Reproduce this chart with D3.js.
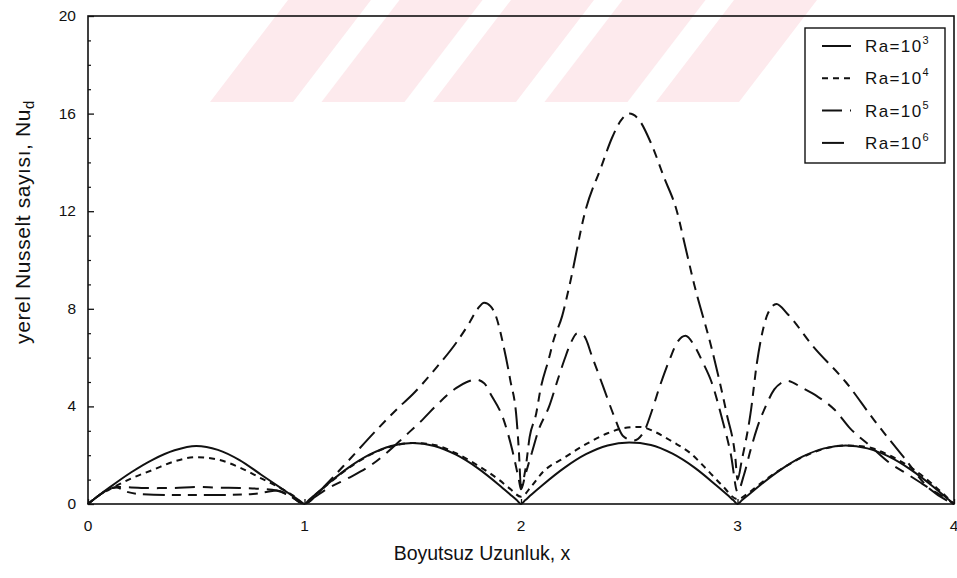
<!DOCTYPE html>
<html>
<head>
<meta charset="utf-8">
<script src="https://cdn.jsdelivr.net/npm/d3@7/dist/d3.min.js"></script>
<style>
  html, body { margin: 0; padding: 0; background: #ffffff; }
  svg { display: block; font-family: "Liberation Sans", Arial, sans-serif; }
</style>
</head>
<body>
<svg id="chart" width="957" height="578"></svg>
<script>
// Local Nusselt number along the dimensionless length for four Rayleigh numbers
const xTicks = [0, 1, 2, 3, 4];
const yTicks = [0, 4, 8, 12, 16, 20];
const yMinorTicks = d3.range(0, 21, 1);

const seriesNames = ["3", "4", "5", "6"];

// Ra = 10^3
const ra1e3 = [
  [0,0],[0.05,0.35],[0.1,0.68],[0.2,1.3],[0.3,1.82],[0.4,2.2],[0.5,2.38],[0.6,2.22],[0.7,1.8],[0.8,1.2],[0.9,0.6],[0.95,0.3],[0.98,0.12],[1,0],
  [1.02,0.16],[1.05,0.39],[1.1,0.77],[1.2,1.47],[1.3,2.02],[1.4,2.38],[1.5,2.5],[1.6,2.38],[1.7,2.02],[1.8,1.47],[1.9,0.77],[1.95,0.39],[1.98,0.16],[2,0],
  [2.02,0.16],[2.05,0.4],[2.1,0.78],[2.2,1.48],[2.3,2.04],[2.4,2.4],[2.5,2.52],[2.6,2.42],[2.7,2.06],[2.8,1.5],[2.9,0.78],[2.95,0.4],[2.98,0.16],[3,0],
  [3.02,0.15],[3.05,0.37],[3.1,0.74],[3.2,1.41],[3.3,1.94],[3.4,2.28],[3.5,2.4],[3.6,2.28],[3.7,1.94],[3.8,1.41],[3.9,0.74],[3.95,0.37],[4,0]
];

// Ra = 10^4
const ra1e4 = [
  [0,0],[0.05,0.35],[0.1,0.6],[0.2,1.05],[0.3,1.4],[0.4,1.75],[0.5,1.92],[0.6,1.82],[0.7,1.5],[0.8,1.05],[0.9,0.6],[0.95,0.33],[1,0],
  [1.05,0.38],[1.1,0.75],[1.2,1.45],[1.3,2.0],[1.4,2.36],[1.5,2.5],[1.6,2.42],[1.7,2.08],[1.8,1.58],[1.9,0.98],[1.95,0.62],[2,0.3],
  [2.05,0.75],[2.1,1.3],[2.2,1.9],[2.3,2.45],[2.4,2.9],[2.47,3.1],[2.55,3.16],[2.62,2.95],[2.7,2.55],[2.78,2.1],[2.86,1.4],[2.93,0.75],[3,0.2],
  [3.05,0.45],[3.1,0.8],[3.2,1.42],[3.3,1.92],[3.4,2.26],[3.5,2.4],[3.6,2.33],[3.7,2.0],[3.8,1.5],[3.9,0.82],[3.95,0.42],[4,0]
];

// Ra = 10^5
const ra1e5 = [
  [0,0],[0.05,0.35],[0.1,0.62],[0.14,0.7],[0.2,0.68],[0.3,0.65],[0.4,0.66],[0.5,0.7],[0.6,0.67],[0.7,0.66],[0.8,0.62],[0.87,0.55],[0.93,0.35],[1,0],
  [1.05,0.3],[1.1,0.6],[1.2,1.05],[1.3,1.55],[1.38,2.1],[1.46,2.75],[1.55,3.5],[1.61,4.05],[1.7,4.75],[1.75,5.0],[1.79,5.1],[1.83,4.95],[1.86,4.5],[1.92,3.45],[1.96,2.2],[1.99,1.0],[2,0.6],
  [2.02,1.2],[2.05,2.1],[2.08,3.0],[2.13,4.0],[2.17,5.1],[2.2,5.9],[2.23,6.6],[2.26,7.0],[2.29,6.9],[2.33,6.0],[2.38,4.8],[2.43,3.6],[2.47,2.8],[2.52,2.6],[2.57,3.0],[2.6,3.7],[2.64,4.8],[2.69,6.0],[2.72,6.6],[2.76,6.9],[2.8,6.5],[2.84,5.8],[2.88,5.0],[2.93,3.45],[2.97,2.0],[3,0.5],
  [3.03,1.2],[3.06,2.2],[3.09,3.1],[3.13,4.0],[3.17,4.7],[3.2,4.95],[3.23,5.05],[3.3,4.75],[3.37,4.4],[3.45,3.85],[3.52,3.1],[3.61,2.4],[3.7,1.7],[3.78,1.25],[3.85,0.85],[3.9,0.57],[3.95,0.3],[4,0]
];

// Ra = 10^6
const ra1e6 = [
  [0,0],[0.05,0.35],[0.1,0.62],[0.13,0.68],[0.18,0.5],[0.25,0.4],[0.4,0.37],[0.5,0.37],[0.6,0.37],[0.75,0.4],[0.83,0.5],[0.87,0.55],[0.93,0.35],[1,0],
  [1.04,0.25],[1.1,0.8],[1.2,1.75],[1.34,3.1],[1.44,4.0],[1.5,4.5],[1.61,5.6],[1.7,6.6],[1.76,7.4],[1.8,8.0],[1.83,8.25],[1.86,8.1],[1.88,7.8],[1.92,6.45],[1.95,5.1],[1.98,3.45],[1.99,2.2],[2,0.7],
  [2.02,1.4],[2.04,2.75],[2.07,3.7],[2.09,4.7],[2.13,6.0],[2.15,6.7],[2.19,7.7],[2.22,8.8],[2.3,12.1],[2.37,13.8],[2.42,15.0],[2.46,15.7],[2.5,16.0],[2.54,15.8],[2.6,14.8],[2.66,13.4],[2.72,12.0],[2.76,10.5],[2.8,9.0],[2.88,6.4],[2.95,3.7],[2.99,1.9],[3,1.0],
  [3.02,1.8],[3.06,3.7],[3.09,5.8],[3.14,7.8],[3.18,8.2],[3.23,7.8],[3.35,6.45],[3.5,5.0],[3.63,3.45],[3.76,2.0],[3.89,0.6],[4,0]
];

const seriesData = [ra1e3, ra1e4, ra1e5, ra1e6];
const dashes = [null, "6,5", "20,8,10,8", "22,7,9,7,9,7"];

const svg = d3.select("#chart");
const plotLeft = 88, plotRight = 954, plotTop = 16, plotBottom = 504;

const x = d3.scaleLinear().domain([0, 4]).range([plotLeft, plotRight]);
const y = d3.scaleLinear().domain([0, 20]).range([plotBottom, plotTop]);

// faint diagonal banner stripes behind the plot
const stripes = svg.append("g");
d3.range(5).forEach(i => {
  const bx = 210 + i * 111.5;
  stripes.append("path")
    .attr("d", `M${bx},102 L${bx + 83},102 L${bx + 161},0 L${bx + 78},0 Z`)
    .attr("fill", "#fdeaed");
});

// frame
svg.append("rect")
  .attr("x", plotLeft).attr("y", plotTop)
  .attr("width", plotRight - plotLeft).attr("height", plotBottom - plotTop)
  .attr("fill", "none").attr("stroke", "#111").attr("stroke-width", 1.6);

// y axis ticks (inward)
const yAxis = d3.axisRight(y).tickValues(yTicks).tickSize(6).tickFormat("");
svg.append("g").attr("transform", `translate(${plotLeft},0)`).call(yAxis)
  .call(g => g.select(".domain").remove())
  .selectAll("line").attr("stroke", "#111").attr("stroke-width", 1.3);
const yMinor = d3.axisRight(y).tickValues(yMinorTicks.filter(v => v % 4 !== 0)).tickSize(3).tickFormat("");
svg.append("g").attr("transform", `translate(${plotLeft},0)`).call(yMinor)
  .call(g => g.select(".domain").remove())
  .selectAll("line").attr("stroke", "#111").attr("stroke-width", 1.2);

// y tick labels
svg.append("g").selectAll("text").data(yTicks).join("text")
  .attr("x", 76).attr("y", d => y(d) + 5)
  .attr("text-anchor", "end").attr("font-size", 15.5).attr("fill", "#111")
  .text(d => d);

// x axis ticks (inward)
const xAxis = d3.axisTop(x).tickValues(xTicks).tickSize(5).tickFormat("");
svg.append("g").attr("transform", `translate(0,${plotBottom})`).call(xAxis)
  .call(g => g.select(".domain").remove())
  .selectAll("line").attr("stroke", "#111").attr("stroke-width", 1.3);

// x tick labels
svg.append("g").selectAll("text").data(xTicks).join("text")
  .attr("x", d => x(d)).attr("y", 531)
  .attr("text-anchor", "middle").attr("font-size", 15.5).attr("fill", "#111")
  .text(d => d);

// axis titles
svg.append("text")
  .attr("x", 482).attr("y", 560)
  .attr("text-anchor", "middle").attr("font-size", 19.5).attr("fill", "#111")
  .text("Boyutsuz Uzunluk, x");

const yt = svg.append("text")
  .attr("transform", "translate(30,222) rotate(-90)")
  .attr("text-anchor", "middle").attr("font-size", 21).attr("fill", "#111")
  .attr("letter-spacing", 0.6);
yt.append("tspan").text("yerel Nusselt sayısı, Nu");
yt.append("tspan").attr("font-size", 15).attr("dy", 4).text("d");

// curves
const line = d3.line()
  .x(d => x(d[0])).y(d => y(d[1]))
  .curve(d3.curveMonotoneX);

const plot = svg.append("g");
seriesData.forEach((s, i) => {
  plot.append("path")
    .datum(s)
    .attr("d", line)
    .attr("fill", "none")
    .attr("stroke", "#111")
    .attr("stroke-width", 2)
    .attr("stroke-dasharray", dashes[i]);
});

// legend
const lg = svg.append("g");
lg.append("rect")
  .attr("x", 805).attr("y", 28).attr("width", 140).attr("height", 135)
  .attr("fill", "#fff").attr("stroke", "#111").attr("stroke-width", 1.4);
seriesNames.forEach((p, i) => {
  const ry = 46 + i * 32.3;
  lg.append("line")
    .attr("x1", 822).attr("x2", 851).attr("y1", ry).attr("y2", ry)
    .attr("stroke", "#111").attr("stroke-width", 2)
    .attr("stroke-dasharray", dashes[i]);
  const t = lg.append("text")
    .attr("x", 865).attr("y", ry + 6)
    .attr("font-size", 17).attr("letter-spacing", 1.4).attr("fill", "#111");
  t.append("tspan").text("Ra=10");
  t.append("tspan").attr("font-size", 11).attr("dy", -8).text(p);
});
</script>
</body>
</html>
